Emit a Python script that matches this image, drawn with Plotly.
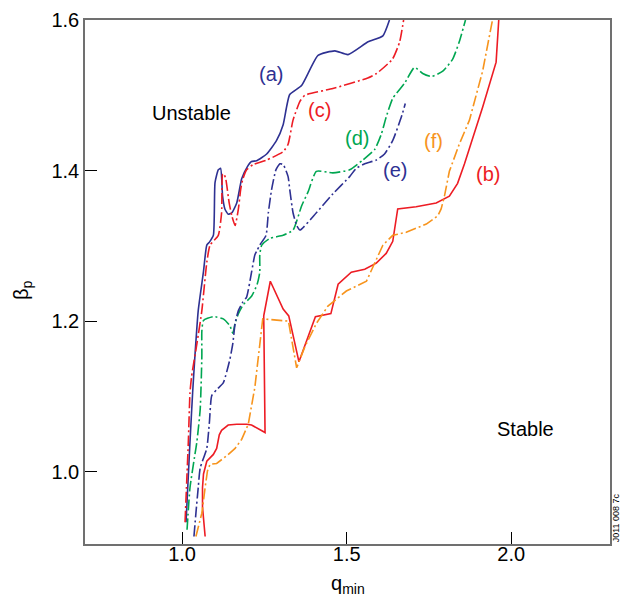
import plotly.graph_objects as go

# ---- data (q_min, beta_p) ----
a_x = [1.012,1.018,1.024,1.032,1.039,1.049,1.065,1.075,1.083,1.095,1.100,1.110,1.117,1.123,1.130,1.140,1.151,1.166,1.181,1.198,1.211,1.226,1.257,1.287,1.307,1.327,1.363,1.413,1.464,1.504,1.565,1.610,1.630]
a_y = [0.933,0.987,1.040,1.105,1.154,1.214,1.266,1.301,1.305,1.314,1.384,1.401,1.403,1.366,1.349,1.342,1.344,1.357,1.389,1.405,1.412,1.413,1.422,1.440,1.461,1.501,1.513,1.553,1.559,1.554,1.571,1.579,1.600]

c_x = [1.009,1.014,1.019,1.024,1.029,1.045,1.060,1.075,1.085,1.110,1.120,1.123,1.127,1.133,1.143,1.151,1.161,1.171,1.178,1.184,1.196,1.216,1.257,1.307,1.322,1.337,1.358,1.373,1.458,1.564,1.591,1.639,1.661,1.673]
c_y = [0.933,0.987,1.040,1.105,1.127,1.170,1.214,1.278,1.301,1.314,1.344,1.395,1.396,1.388,1.357,1.340,1.327,1.349,1.375,1.388,1.401,1.408,1.414,1.425,1.435,1.467,1.492,1.500,1.509,1.523,1.529,1.548,1.571,1.600]

d_x = [1.015,1.024,1.039,1.045,1.055,1.060,1.060,1.065,1.095,1.125,1.145,1.154,1.161,1.171,1.186,1.211,1.228,1.236,1.236,1.242,1.267,1.307,1.337,1.363,1.383,1.408,1.458,1.509,1.549,1.585,1.605,1.620,1.640,1.676,1.706,1.731,1.757,1.792,1.822,1.842,1.861]
d_y = [0.923,0.979,1.023,1.040,1.083,1.154,1.187,1.201,1.206,1.203,1.194,1.184,1.197,1.210,1.222,1.233,1.249,1.265,1.288,1.301,1.310,1.314,1.321,1.353,1.372,1.399,1.397,1.401,1.414,1.428,1.448,1.471,1.496,1.516,1.537,1.529,1.525,1.532,1.548,1.571,1.600]

e_x = [1.036,1.042,1.049,1.055,1.075,1.083,1.090,1.105,1.125,1.145,1.154,1.161,1.171,1.184,1.196,1.211,1.221,1.228,1.236,1.255,1.262,1.272,1.285,1.297,1.307,1.322,1.327,1.337,1.348,1.358,1.408,1.458,1.509,1.529,1.555,1.590,1.615,1.640,1.666,1.678]
e_y = [0.914,0.945,0.979,1.005,1.031,1.066,1.101,1.109,1.118,1.149,1.170,1.197,1.214,1.225,1.232,1.265,1.288,1.294,1.301,1.314,1.344,1.375,1.401,1.409,1.408,1.392,1.375,1.344,1.327,1.321,1.344,1.369,1.392,1.403,1.409,1.414,1.422,1.440,1.471,1.489]

b_x = [1.070,1.065,1.062,1.062,1.065,1.075,1.095,1.105,1.113,1.120,1.140,1.166,1.196,1.211,1.252,1.248,1.268,1.307,1.324,1.355,1.405,1.452,1.474,1.514,1.555,1.590,1.620,1.640,1.655,1.711,1.772,1.812,1.837,1.858,1.913,1.954,1.962]
b_y = [0.914,0.936,0.953,0.979,0.997,1.014,1.023,1.031,1.049,1.055,1.062,1.063,1.063,1.062,1.052,1.207,1.253,1.216,1.207,1.146,1.206,1.210,1.249,1.265,1.269,1.277,1.290,1.306,1.349,1.352,1.357,1.366,1.383,1.409,1.484,1.544,1.600]

f_x = [1.042,1.060,1.070,1.077,1.085,1.105,1.135,1.161,1.181,1.201,1.221,1.236,1.245,1.323,1.348,1.373,1.408,1.443,1.499,1.560,1.585,1.610,1.640,1.681,1.742,1.777,1.787,1.797,1.812,1.842,1.873,1.913,1.943]
f_y = [0.914,0.945,0.979,1.001,1.010,1.011,1.021,1.031,1.043,1.063,1.112,1.170,1.203,1.200,1.138,1.166,1.197,1.220,1.240,1.253,1.276,1.301,1.314,1.318,1.329,1.340,1.349,1.366,1.399,1.435,1.467,1.532,1.600]

x_ticks = [1.0, 1.5, 2.0]
x_ticklabels = ["1.0", "1.5", "2.0"]
y_ticks = [1.0, 1.2, 1.4, 1.6]
y_ticklabels = ["1.0", "1.2", "1.4", "1.6"]

BLUE = "#2e3192"
RED = "#ed1c24"
GREEN = "#00a651"
ORANGE = "#f7941d"
DASHDOT = "11px,3px,2px,3px"

series = [
    ("(a)", a_x, a_y, BLUE, "solid", "spline"),
    ("(c)", c_x, c_y, RED, DASHDOT, "spline"),
    ("(d)", d_x, d_y, GREEN, DASHDOT, "spline"),
    ("(e)", e_x, e_y, BLUE, DASHDOT, "spline"),
    ("(b)", b_x, b_y, RED, "solid", "linear"),
    ("(f)", f_x, f_y, ORANGE, DASHDOT, "linear"),
]

fig = go.Figure()
for name, xs, ys, col, dash, shape in series:
    line = dict(color=col, width=1.6, dash=dash, shape=shape)
    if shape == "spline":
        line["smoothing"] = 0.5
    fig.add_trace(go.Scatter(x=xs, y=ys, mode="lines", name=name,
                             line=line, showlegend=False))

FONT = "Liberation Sans, Arial, Helvetica, sans-serif"

labels = [
    ("Unstable", 1.029, 1.476, "black"),
    ("Stable", 2.043, 1.057, "black"),
    ("(a)", 1.271, 1.528, BLUE),
    ("(c)", 1.416, 1.481, RED),
    ("(d)", 1.531, 1.443, GREEN),
    ("(e)", 1.646, 1.401, BLUE),
    ("(f)", 1.764, 1.439, ORANGE),
    ("(b)", 1.928, 1.395, RED),
]
for txt, lx, ly, col in labels:
    fig.add_annotation(x=lx, y=ly, xref="x", yref="y", text=txt, showarrow=False,
                       font=dict(family=FONT, size=20, color=col))

# axis titles
fig.add_annotation(x=-0.118, y=0.485, xref="paper", yref="paper", text="β<sub>p</sub>",
                   textangle=-90, showarrow=False, xanchor="center", yanchor="middle",
                   font=dict(family=FONT, size=20, color="black"))
fig.add_annotation(x=0.5, y=-0.05, xref="paper", yref="paper", text="q<sub>min</sub>",
                   showarrow=False, yanchor="top", xanchor="center",
                   font=dict(family=FONT, size=20, color="black"))
# figure id
fig.add_annotation(x=1.011, y=0.0, xref="paper", yref="paper", text="J011 008 7c",
                   textangle=-90, showarrow=False, xanchor="center", yanchor="bottom",
                   font=dict(family=FONT, size=9, color="black"))

axis_common = dict(showline=True, linecolor="#707070", linewidth=1.6, mirror=True,
                   ticks="inside", ticklen=12, tickwidth=1.2, tickcolor="black",
                   showgrid=False, zeroline=False,
                   tickfont=dict(family=FONT, size=20, color="black"))

fig.update_layout(
    width=621, height=600,
    margin=dict(l=85, r=9, t=13, b=56),
    paper_bgcolor="white", plot_bgcolor="white",
    xaxis=dict(range=[0.705, 2.3], tickvals=x_ticks, ticktext=x_ticklabels,
               ticklabelstandoff=-9, **axis_common),
    yaxis=dict(range=[0.904, 1.6], tickvals=y_ticks, ticktext=y_ticklabels, **axis_common),
)

fig.write_html("out.html")
